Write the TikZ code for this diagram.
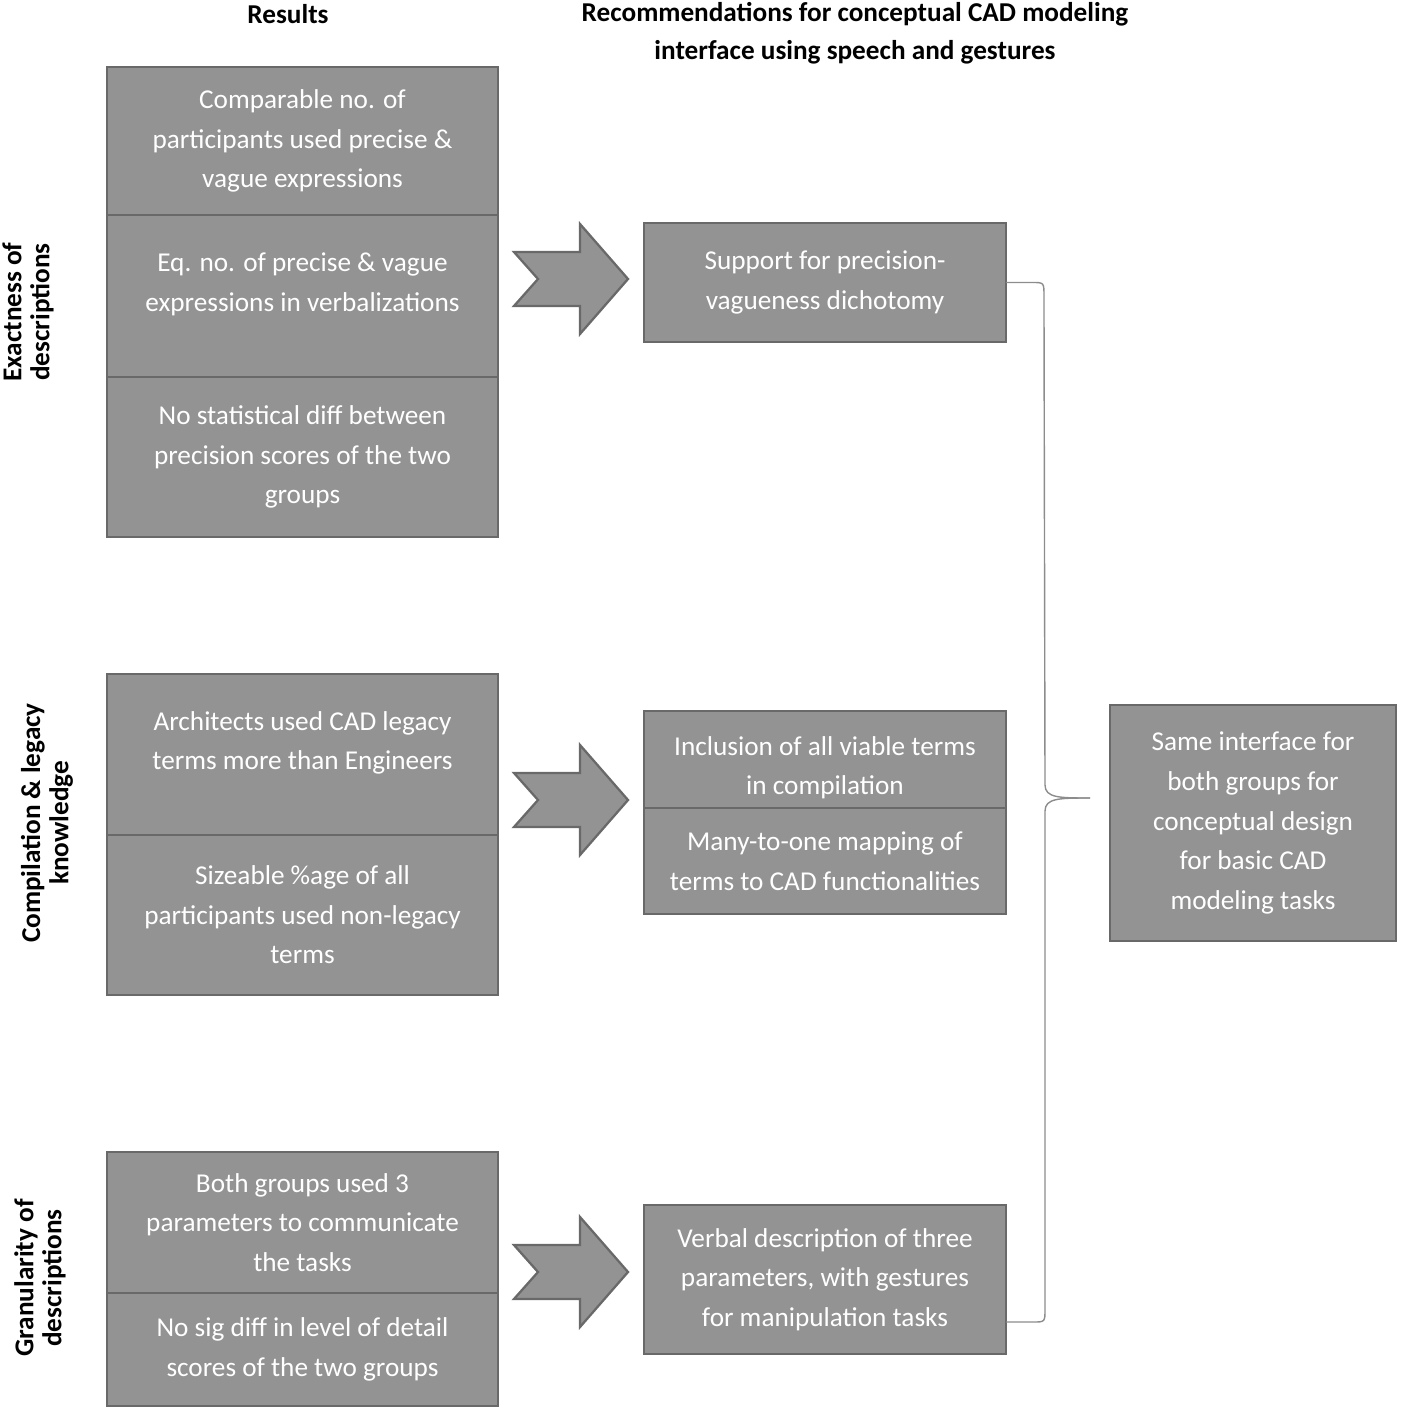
\documentclass[tikz,border=0pt]{standalone}
\usepackage{fontspec}
\setmainfont{Carlito}
\usetikzlibrary{positioning}

\definecolor{boxfill}{RGB}{147,147,147}
\definecolor{boxline}{RGB}{105,105,105}
\definecolor{bracec}{RGB}{140,140,140}

\begin{document}
\begin{tikzpicture}[x=0.02cm,y=-0.02cm,
    every node/.style={font=\fontsize{15.5}{22.5}\selectfont},
    res/.style={draw=boxline,fill=boxfill,line width=1.3pt,text=white,align=center,
                outer sep=0pt,minimum width=7.82cm},
    rec/.style={res,minimum width=7.24cm},
    head/.style={font=\fontsize{15.5}{21.5}\selectfont\bfseries,align=center},
    side/.style={head,rotate=90,font=\fontsize{15.5}{16}\selectfont\bfseries},
    bigarrow/.style={draw=boxline,fill=boxfill,line width=1.3pt,line join=miter}]
      \useasboundingbox (0,0) rectangle (1400,1409);

      % headings
      \node[head] (hres) at (288,14) {Results};
      \node[head] (hrec) at (855,33) {Recommendations for conceptual CAD modeling\\interface using speech and gestures};

      \node[side] (sexa) at (28,312) {Exactness of\\descriptions};
      \node[side] (scom) at (47,823) {Compilation \& legacy\\knowledge};
      \node[side] (sgra) at (40,1278) {Granularity of\\descriptions};

      % results
      \node[res,minimum height=2.96cm] (l1a) at (302.5,141) {Comparable no. of\\participants used precise \&\\vague expressions};
      \node[res,minimum height=3.24cm,below=0pt of l1a] (l1b) {Eq. no. of precise \& vague\\expressions in verbalizations\rule[-0.55cm]{0pt}{0.55cm}};
      \node[res,minimum height=3.2cm,below=0pt of l1b] (l1c) {No statistical diff between\\precision scores of the two\\groups};

      \node[res,minimum height=3.22cm] (l2a) at (302.5,754.5) {Architects used CAD legacy\\terms more than Engineers\rule[-0.55cm]{0pt}{0.55cm}};
      \node[res,minimum height=3.2cm,below=0pt of l2a] (l2b) {Sizeable \%age of all\\participants used non-legacy\\terms};

      \node[res,minimum height=2.82cm] (l3a) at (302.5,1222.5) {Both groups used 3\\parameters to communicate\\the tasks};
      \node[res,minimum height=2.26cm,below=0pt of l3a] (l3b) {No sig diff in level of detail\\scores of the two groups};

      % recommendations
      \node[rec,minimum height=2.38cm] (m1) at (825,282.5) {Support for precision-\\vagueness dichotomy};

      \node[rec,minimum height=1.94cm] (m2a) at (825,759.5) {\rule{0pt}{0.7cm}Inclusion of all viable terms\\in compilation};
      \node[rec,minimum height=2.12cm,below=0pt of m2a] (m2b) {Many-to-one mapping of\\terms to CAD functionalities};

      \node[rec,minimum height=2.98cm] (m3) at (825,1279.5) {Verbal description of three\\parameters, with gestures\\for manipulation tasks};

      \node[res,minimum width=5.72cm,minimum height=4.72cm] (same) at (1253,823) {Same interface for\\both groups for\\conceptual design\\for basic CAD\\modeling tasks};

      % block arrows
      \foreach \y in {279,800,1272}
        \draw[bigarrow,shift={(0,\y)}] (514,-27) -- (580,-27) -- (580,-55) -- (628,0) -- (580,55)
              -- (580,27) -- (514,27) -- (538,0) -- cycle;

      % brace
      \coordinate (tip) at (1090,798);
      \draw[bracec,line width=0.8pt] (m1.east) -- ++(26,0) .. controls +(12,0) .. ++(12,13)
            -- (1045,785) .. controls (1045,798) and (1060,798) .. (tip);
      \draw[bracec,line width=0.8pt] (tip) .. controls (1060,798) and (1045,798) .. (1045,811)
            -- (1045,1309) .. controls (1045,1322) .. (1033,1322) -- (m3.east |- 0,1322);

\end{tikzpicture}
\end{document}
